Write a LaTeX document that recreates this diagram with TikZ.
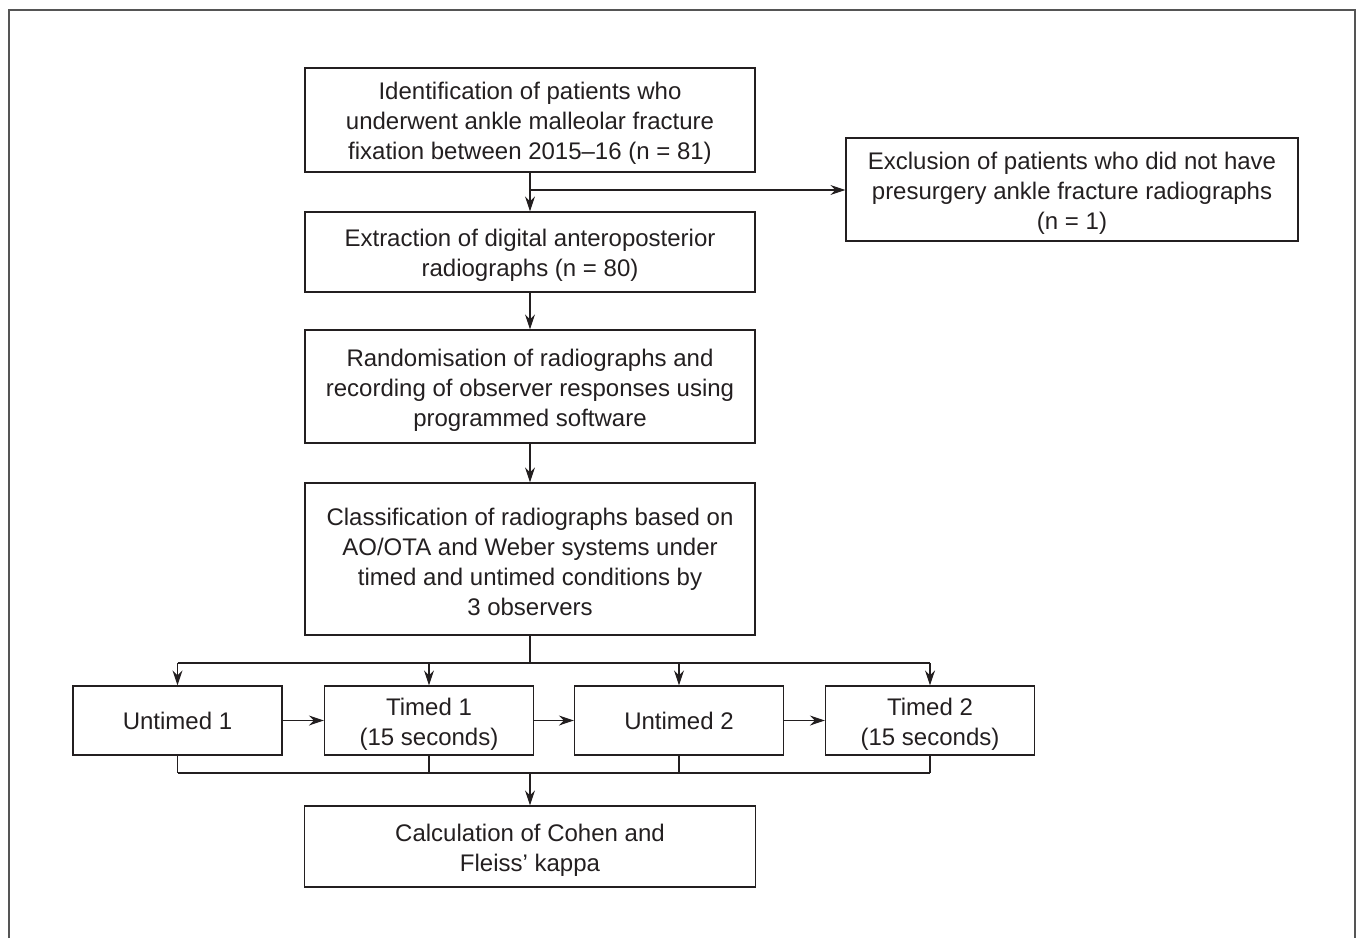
\documentclass[tikz,border=0pt]{standalone}
\usepackage{fontspec}
\setmainfont{Liberation Sans}
\usetikzlibrary{arrows.meta}
\definecolor{ink}{HTML}{231F20}
\definecolor{frame}{HTML}{555555}
\newcommand{\tstrut}{\rule{0pt}{24pt}}
\begin{document}
\begin{tikzpicture}[x=1pt,y=-1pt,
  box/.style={draw=ink, line width=1.2pt, rectangle, align=center, inner sep=0pt,
    text=ink, font=\fontsize{24}{30}\selectfont},
  arr/.style={draw=ink, line width=1.2pt, -{Stealth[length=15pt,width=10pt]}},
  ln/.style={draw=ink, line width=1.2pt}]
\useasboundingbox (0,0) rectangle (1357,938);
\draw[frame, line width=2pt] (9,938) -- (9,9.5) -- (1355,9.5) -- (1355,938);

\node[box, minimum width=450pt, minimum height=104pt] (b1) at (530,120)
  {\tstrut Identification of patients who\\underwent ankle malleolar fracture\\fixation between 2015–16 (n = 81)};
\node[box, minimum width=452pt, minimum height=103pt] (ex) at (1072,189.5)
  {\tstrut Exclusion of patients who did not have\\presurgery ankle fracture radiographs\\(n = 1)};
\node[box, minimum width=450pt, minimum height=80pt] (b2) at (530,252)
  {\tstrut Extraction of digital anteroposterior\\radiographs (n = 80)};
\node[box, minimum width=450pt, minimum height=113pt] (b3) at (530,386.5)
  {\tstrut Randomisation of radiographs and\\recording of observer responses using\\programmed software};
\node[box, minimum width=450pt, minimum height=152pt] (b4) at (530,559)
  {\tstrut Classification of radiographs based on\\AO/OTA and Weber systems under\\timed and untimed conditions by\\3 observers};
\node[box, minimum width=209pt, minimum height=69pt] (u1) at (177.5,720.5) {Untimed 1};
\node[box, minimum width=209pt, minimum height=69pt] (t1) at (429,720.5) {\tstrut Timed 1\\(15 seconds)};
\node[box, minimum width=209pt, minimum height=69pt] (u2) at (679,720.5) {Untimed 2};
\node[box, minimum width=209pt, minimum height=69pt] (t2) at (930,720.5) {\tstrut Timed 2\\(15 seconds)};
\node[box, minimum width=451pt, minimum height=81pt] (b5) at (530,846.5)
  {\tstrut Calculation of Cohen and\\Fleiss’ kappa};

\coordinate (br) at (530,190);
\coordinate (bus) at (530,663);
\coordinate (bus2) at (530,773);

\draw[arr] (b1.south) -- (b2.north);
\draw[arr] (br) -- (ex.west |- br);
\draw[arr] (b2.south) -- (b3.north);
\draw[arr] (b3.south) -- (b4.north);
\draw[ln] (b4.south) -- (bus);
\draw[ln] (u1.north |- bus) -- (t2.north |- bus);
\foreach \n in {u1,t1,u2,t2} \draw[arr] (\n.north |- bus) -- (\n.north);
\draw[arr] (u1.east) -- (t1.west);
\draw[arr] (t1.east) -- (u2.west);
\draw[arr] (u2.east) -- (t2.west);
\foreach \n in {u1,t1,u2,t2} \draw[ln] (\n.south) -- (\n.south |- bus2);
\draw[ln] (u1.south |- bus2) -- (t2.south |- bus2);
\draw[arr] (bus2) -- (b5.north);
\end{tikzpicture}
\end{document}
